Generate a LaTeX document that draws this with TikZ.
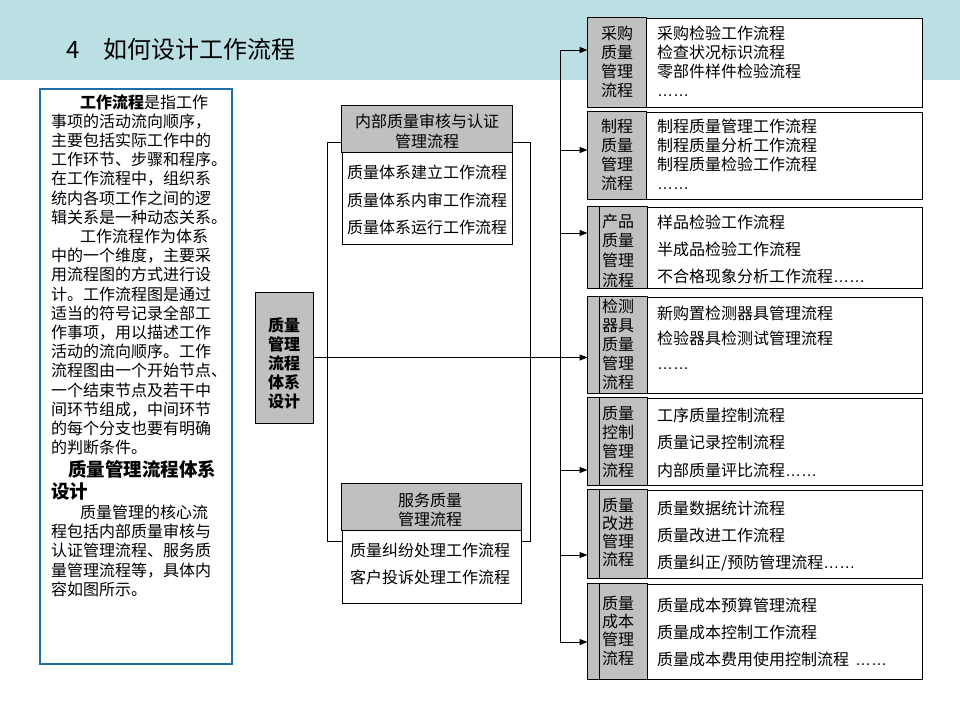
\documentclass[tikz,border=0pt]{standalone}
\usepackage{fontspec}
\setmainfont{Noto Sans CJK SC}
\newfontfamily\latinf{Liberation Sans}
\usetikzlibrary{arrows.meta}
\definecolor{band}{RGB}{187,224,228}
\definecolor{boxgray}{RGB}{192,192,192}
\definecolor{edgeblue}{RGB}{30,110,168}
\newcommand\mlines[3]{\parbox[t]{#1}{\fontsize{16}{#2}\selectfont\lineskiplimit=-100pt\lineskip=0pt\raggedright #3}}
\newcommand\mlinesc[3]{\parbox[t]{#1}{\fontsize{16}{#2}\selectfont\lineskiplimit=-100pt\lineskip=0pt\centering #3}}
\newcommand\ellip{{\latinf ……}}
\tikzset{
  txt/.style={anchor=base west, inner sep=0pt, outer sep=0pt},
  txtc/.style={anchor=base, inner sep=0pt, outer sep=0pt},
  rbox/.style={draw, fill=white, line width=1pt, inner sep=0pt, minimum width=334pt},
  gbox/.style={draw, fill=white, line width=1pt, inner sep=0pt},
  conn/.style={line width=1pt},
  arr/.style={line width=1pt, -{Triangle[length=8pt,width=6pt]}},
  graypart/.style={draw, fill=boxgray, line width=1pt}
}
\begin{document}
\begin{tikzpicture}[x=1pt,y=-1pt]
\useasboundingbox (0,0) rectangle (960,720);
\fill[white] (0,0) rectangle (960,720);
% header band
\fill[band] (0,0) rectangle (960,80);
\node[txt, font=\fontsize{24}{28}\selectfont] (title) at (66.5,58) {4\hspace{24pt}如何设计工作流程};

% left text box
\node[draw=edgeblue, line width=1.2pt, minimum width=192pt, minimum height=575pt, inner sep=0pt] (lt) at (136,376.5) {};
\node[txt] (p1) at (51,108) {\mlines{200pt}{19.2}{\hspace*{29pt}{\bfseries 工作流程}是指工作\\事项的活动流向顺序，\\主要包括实际工作中的\\工作环节、步骤和程序。\\在工作流程中，组织系\\统内各项工作之间的逻\\辑关系是一种动态关系。\\\hspace*{29pt}工作流程作为体系\\中的一个维度，主要采\\用流程图的方式进行设\\计。工作流程图是通过\\适当的符号记录全部工\\作事项，用以描述工作\\活动的流向顺序。工作\\流程图由一个开始节点、\\一个结束节点及若干中\\间环节组成，中间环节\\的每个分支也要有明确\\的判断条件。}};
\node[txt] (p2) at (51,476.3) {\parbox[t]{200pt}{\fontsize{18.5}{22.4}\selectfont\lineskiplimit=-100pt\lineskip=0pt\raggedright\bfseries \hspace*{17pt}质量管理流程体系\\设计}};
\node[txt] (p3) at (51,518.7) {\mlines{200pt}{19.1}{\hspace*{29pt}质量管理的核心流\\程包括内部质量审核与\\认证管理流程、服务质\\量管理流程等，具体内\\容如图所示。}};

% central node
\node[gbox, fill=boxgray, minimum width=58pt, minimum height=131pt] (c) at (284,357.5) {};
\node[txtc] (ct) at (284,331) {\mlinesc{50pt}{19.2}{\bfseries 质量\\管理\\流程\\体系\\设计}};

% internal audit box
\node[gbox, minimum width=170pt, minimum height=138pt] (ia) at (427,175) {};
\draw[graypart] (ia.north west) rectangle ([yshift=-47pt]ia.north east);
\node[txtc] (iah) at (427,127.7) {\mlinesc{170pt}{20}{内部质量审核与认证\\管理流程}};
\node[txt] (iab) at (347,178.7) {\mlines{170pt}{27.3}{质量体系建立工作流程\\质量体系内审工作流程\\质量体系运行工作流程}};

% service quality box
\node[gbox, minimum width=179pt, minimum height=119pt] (sq) at (431.5,543.5) {};
\draw[graypart] (sq.north west) rectangle ([yshift=-47pt]sq.north east);
\node[txtc] (sqh) at (430,506) {\mlinesc{170pt}{19.3}{服务质量\\管理流程}};
\node[txt] (sqb) at (350,556) {\mlines{170pt}{27.3}{质量纠纷处理工作流程\\客户投诉处理工作流程}};

% right boxes
\node[rbox, minimum height=89pt] (b1) at (755,62.5) {};
\node[rbox, minimum height=87pt] (b2) at (755,155.5) {};
\node[rbox, minimum height=81pt] (b3) at (755,247.5) {};
\node[rbox, minimum height=96pt] (b4) at (755,345) {};
\node[rbox, minimum height=87pt] (b5) at (755,441.5) {};
\node[rbox, minimum height=88pt] (b6) at (755,534) {};
\node[rbox, minimum height=95pt] (b7) at (755,631.5) {};
\foreach \b in {b1,b2}{
  \draw[graypart] (\b.north west) rectangle ([xshift=59pt]\b.south west);
}
\foreach \b in {b3,b4,b5,b6,b7}{
  \draw[graypart] (\b.north west) rectangle ([xshift=60pt]\b.south west);
  \draw[conn] ([xshift=12pt]\b.north west) -- ([xshift=12pt]\b.south west);
}

\node[txt] (l1) at (601,39.3) {\mlines{40pt}{19}{采购\\质量\\管理\\流程}};
\node[txt] (t1) at (657,39.3) {\mlines{260pt}{19}{采购检验工作流程\\检查状况标识流程\\零部件样件检验流程\\\ellip}};
\node[txt] (l2) at (601,132.7) {\mlines{40pt}{19}{制程\\质量\\管理\\流程}};
\node[txt] (t2) at (657,132.7) {\mlines{260pt}{19}{制程质量管理工作流程\\制程质量分析工作流程\\制程质量检验工作流程\\\ellip}};
\node[txt] (l3) at (602,227) {\mlines{40pt}{19.7}{产品\\质量\\管理\\流程}};
\node[txt] (t3) at (657,228) {\mlines{260pt}{27.2}{样品检验工作流程\\半成品检验工作流程\\不合格现象分析工作流程\ellip}};
\node[txt] (l4) at (602,312) {\mlines{40pt}{19.2}{检测\\器具\\质量\\管理\\流程}};
\node[txt] (t4) at (657,319.3) {\mlines{260pt}{25}{新购置检测器具管理流程\\检验器具检测试管理流程\\\ellip}};
\node[txt] (l5) at (602,419.3) {\mlines{40pt}{19}{质量\\控制\\管理\\流程}};
\node[txt] (t5) at (657,421) {\mlines{260pt}{27.5}{工序质量控制流程\\质量记录控制流程\\内部质量评比流程\ellip}};
\node[txt] (l6) at (602,511) {\mlines{40pt}{18.3}{质量\\改进\\管理\\流程}};
\node[txt] (t6) at (657,514.3) {\mlines{260pt}{27.2}{质量数据统计流程\\质量改进工作流程\\质量纠正/预防管理流程\ellip}};
\node[txt] (l7) at (602,609.3) {\mlines{40pt}{18.3}{质量\\成本\\管理\\流程}};
\node[txt] (t7) at (657,611) {\mlines{260pt}{27.2}{质量成本预算管理流程\\质量成本控制工作流程\\质量成本费用使用控制流程\hspace{6pt}\ellip}};

% connectors
\coordinate (j1) at (560,50);
\coordinate (j2) at (560,150);
\coordinate (j3) at (560,233);
\coordinate (j5) at (560,470);
\coordinate (j6) at (560,555);
\coordinate (j7) at (560,642);
\draw[conn] (j1) -- (j7);
\draw[arr] (j1) -- (j1 -| b1.west);
\draw[arr] (j2) -- (j2 -| b2.west);
\draw[arr] (j3) -- (j3 -| b3.west);
\draw[arr] (j5) -- (j5 -| b5.west);
\draw[arr] (j6) -- (j6 -| b6.west);
\draw[arr] (j7) -- (j7 -| b7.west);
\draw[arr] (c.east) -- (c.east -| b4.west);

\coordinate (kl1) at (327,142);
\coordinate (kl2) at (327,541);
\coordinate (kr1) at (530,142);
\coordinate (kr2) at (530,541);
\draw[conn] (kl1 -| ia.west) -- (kl1) -- (kl2) -- (kl2 -| sq.west);
\draw[conn] (kr1 -| ia.east) -- (kr1) -- (kr2) -- (kr2 -| sq.east);
\end{tikzpicture}
\end{document}
